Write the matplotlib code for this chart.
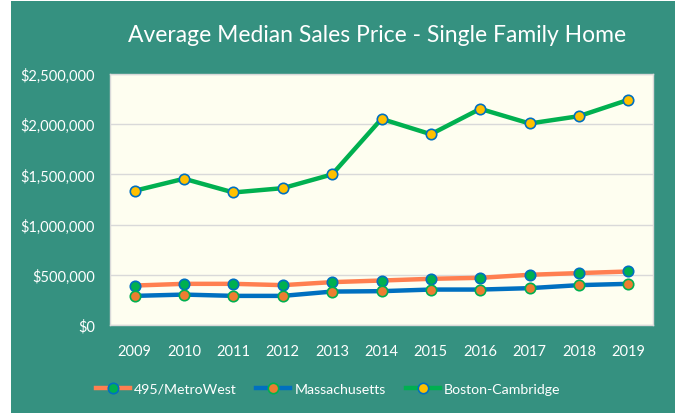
import matplotlib
matplotlib.use("Agg")
import matplotlib.pyplot as plt
from matplotlib.patches import Rectangle
from matplotlib.ticker import FuncFormatter

years = ["2009", "2010", "2011", "2012", "2013", "2014", "2015", "2016", "2017", "2018", "2019"]
metrowest = [393000, 410000, 410000, 397000, 427000, 443000, 460000, 470000, 500000, 517000, 533000]
massachusetts = [290000, 303000, 290000, 290000, 333000, 337000, 353000, 353000, 367000, 397000, 410000]
boston = [1337000, 1457000, 1320000, 1363000, 1500000, 2053000, 1900000, 2153000, 2007000, 2080000, 2243000]

plt.rcParams['font.family'] = ['Lato', 'DejaVu Sans']

TEAL = "#359180"
W, H = 675, 414
fig = plt.figure(figsize=(W/100, H/100), dpi=100, facecolor="white")
fig.patches.append(Rectangle((11/W, 0), 1 - 11/W, 1 - 2/H, transform=fig.transFigure,
                             facecolor=TEAL, edgecolor="none", zorder=-10))

ax = fig.add_axes([110/W, 1 - 326/H, 543/W, 251/H])
ax.set_zorder(2)
ax.set_facecolor("#FEFEF0")
for s in ax.spines.values():
    s.set_color("#D9D9D9")
    s.set_linewidth(1)

x = list(range(len(years)))
ax.plot(x, metrowest, color="#FF7F50", lw=3.2, marker="o", ms=7.5,
        mfc="#00B050", mec="#0070C0", mew=1.2, label="495/MetroWest", zorder=3)
ax.plot(x, massachusetts, color="#0070C0", lw=3.2, marker="o", ms=7.5,
        mfc="#ED7D31", mec="#00B050", mew=1.2, label="Massachusetts", zorder=3)
ax.plot(x, boston, color="#00B050", lw=3.2, marker="o", ms=7.5,
        mfc="#FFC000", mec="#0070C0", mew=1.2, label="Boston-Cambridge", zorder=3)

ax.set_xlim(-0.5, len(years) - 0.5)
ax.set_ylim(0, 2500000)
ax.set_yticks([0, 500000, 1000000, 1500000, 2000000, 2500000])
ax.yaxis.set_major_formatter(FuncFormatter(lambda v, p: "${:,.0f}".format(v)))
ax.set_xticks(x)
ax.set_xticklabels(years)
ax.grid(axis="y", color="#D9D9D9", lw=1)
ax.set_axisbelow(True)
ax.tick_params(axis="both", length=0, colors="white", labelsize=10.5)
ax.tick_params(axis="x", pad=14)
ax.tick_params(axis="y", pad=11)

fig.text(377/W, 1 - 36/H, "Average Median Sales Price - Single Family Home",
         color="white", fontsize=16.5, ha="center", va="center")

leg = fig.legend(loc="center", bbox_to_anchor=(328/W, 1 - 390/H), ncol=3, frameon=False,
                 fontsize=10.2, labelcolor="white", handlelength=2.4, columnspacing=1.4,
                 handletextpad=0.3)

fig.savefig("out.png", dpi=100, facecolor=fig.get_facecolor())
